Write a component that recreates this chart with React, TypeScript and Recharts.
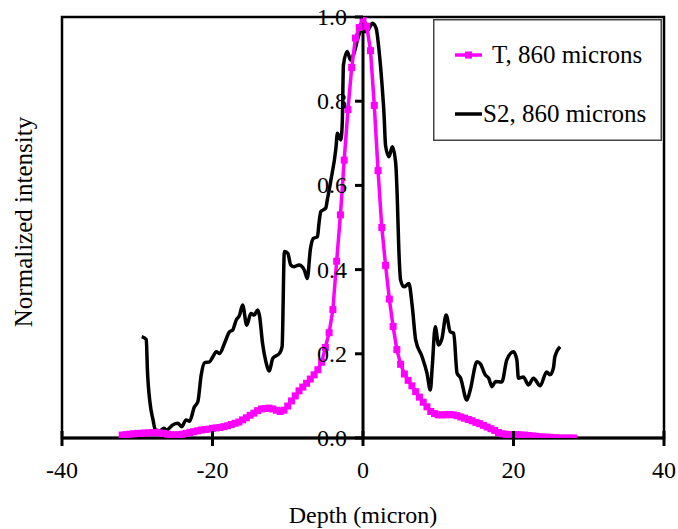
import React from "react";
import {
  LineChart,
  Line,
  XAxis,
  YAxis,
  ReferenceLine,
  ReferenceArea,
  Legend,
} from "recharts";

// depth (micron), normalized intensity
const tRows: [number, number][] = [
  [-32, 0.007], [-31.5, 0.008], [-31, 0.009], [-30.5, 0.01], [-30, 0.011],
  [-29.5, 0.011], [-29, 0.012], [-28.5, 0.012], [-28, 0.013], [-27.5, 0.013],
  [-27, 0.012], [-26.5, 0.011], [-26, 0.009], [-25.5, 0.008], [-25, 0.007],
  [-24.5, 0.008], [-24, 0.009], [-23.5, 0.011], [-23, 0.013], [-22.5, 0.015],
  [-22, 0.017], [-21.5, 0.019], [-21, 0.02], [-20.5, 0.021], [-20, 0.023],
  [-19.5, 0.024], [-19, 0.025], [-18.5, 0.027], [-18, 0.029], [-17.5, 0.032],
  [-17, 0.035], [-16.5, 0.038], [-16, 0.043], [-15.5, 0.048], [-15, 0.054],
  [-14.5, 0.059], [-14, 0.065], [-13.5, 0.069], [-13, 0.07], [-12.5, 0.071],
  [-12, 0.069], [-11.5, 0.066], [-11, 0.063], [-10.5, 0.066], [-10, 0.076],
  [-9.5, 0.088], [-9, 0.1], [-8.5, 0.112], [-8, 0.121], [-7.5, 0.13],
  [-7, 0.14], [-6.5, 0.15], [-6, 0.162], [-5.5, 0.18], [-5, 0.215],
  [-4.5, 0.25], [-4, 0.305], [-3.5, 0.42], [-3, 0.53], [-2.5, 0.66],
  [-2, 0.78], [-1.5, 0.88], [-1, 0.95], [-0.5, 0.975], [0, 1.0],
  [0.5, 0.978], [1, 0.92], [1.5, 0.79], [2, 0.635], [2.5, 0.5],
  [3, 0.41], [3.5, 0.33], [4, 0.265], [4.5, 0.21], [5, 0.175],
  [5.5, 0.152], [6, 0.137], [6.5, 0.124], [7, 0.11], [7.5, 0.097],
  [8, 0.085], [8.5, 0.074], [9, 0.063], [9.5, 0.058], [10, 0.055],
  [10.5, 0.055], [11, 0.055], [11.5, 0.056], [12, 0.055], [12.5, 0.053],
  [13, 0.05], [13.5, 0.047], [14, 0.044], [14.5, 0.041], [15, 0.037],
  [15.5, 0.034], [16, 0.03], [16.5, 0.026], [17, 0.022], [17.5, 0.018],
  [18, 0.013], [18.5, 0.01], [19, 0.009], [19.5, 0.008], [20, 0.008],
  [20.5, 0.008], [21, 0.007], [21.5, 0.007], [22, 0.006], [22.5, 0.005],
  [23, 0.004], [23.5, 0.003], [24, 0.002], [24.5, 0.002], [25, 0.001],
  [25.5, 0.001], [26, 0], [26.5, 0], [27, 0], [27.5, 0], [28, 0],
];

const s2Rows: [number, number][] = [
  [-29.4, 0.241], [-28.8, 0.234], [-28.65, 0.162], [-28.3, 0.083], [-27.9, 0.043],
  [-27.6, 0.019], [-27.0, 0.017], [-26.45, 0.023], [-26.1, 0.019], [-25.3, 0.031],
  [-24.6, 0.035], [-24.1, 0.027], [-23.5, 0.043], [-23.05, 0.04], [-22.4, 0.074],
  [-21.95, 0.086], [-21.5, 0.15], [-21.05, 0.179], [-20.4, 0.181], [-19.95, 0.193],
  [-19.5, 0.205], [-19.05, 0.201], [-18.4, 0.225], [-17.75, 0.252], [-17.3, 0.257],
  [-16.85, 0.28], [-16.4, 0.292], [-16.0, 0.316], [-15.45, 0.268], [-14.9, 0.296],
  [-14.45, 0.292], [-14.0, 0.304], [-13.75, 0.29], [-13.35, 0.225], [-12.9, 0.181],
  [-12.45, 0.159], [-12.0, 0.189], [-11.1, 0.201], [-10.75, 0.217], [-10.45, 0.443],
  [-10.0, 0.439], [-9.6, 0.411], [-9.15, 0.407], [-8.5, 0.411], [-7.8, 0.399],
  [-7.4, 0.379], [-7.0, 0.447], [-6.6, 0.474], [-6.05, 0.478], [-5.85, 0.51],
  [-5.6, 0.538], [-4.95, 0.546], [-4.75, 0.565], [-4.3, 0.609], [-3.6, 0.688],
  [-3.4, 0.724], [-2.95, 0.708], [-2.75, 0.751], [-2.6, 0.886], [-2.1, 0.918],
  [-1.65, 0.898], [-1.2, 0.914], [-0.55, 0.957], [-0.1, 0.973], [0.35, 0.965],
  [0.8, 0.973], [1.25, 0.985], [1.75, 0.973], [2.1, 0.926], [2.5, 0.846],
  [2.8, 0.767], [3.0, 0.694], [3.45, 0.668], [3.9, 0.692], [4.35, 0.652],
  [4.55, 0.573], [4.75, 0.454], [5.0, 0.375], [5.45, 0.359], [6.1, 0.367],
  [6.55, 0.312], [7.0, 0.233], [7.85, 0.193], [8.5, 0.154], [8.95, 0.114],
  [9.2, 0.169], [9.6, 0.264], [10.05, 0.221], [10.5, 0.237], [11.05, 0.292],
  [11.6, 0.252], [12.05, 0.249], [12.5, 0.154], [12.95, 0.143], [13.8, 0.09],
  [14.25, 0.114], [15.15, 0.181], [15.6, 0.176], [16.25, 0.15], [16.7, 0.142],
  [17.15, 0.122], [17.6, 0.134], [18.45, 0.133], [19.1, 0.185], [20.0, 0.205],
  [20.45, 0.185], [20.65, 0.142], [21.3, 0.145], [22.0, 0.126], [22.65, 0.142],
  [23.55, 0.124], [24.4, 0.157], [24.85, 0.15], [25.3, 0.166], [25.5, 0.193],
  [26.2, 0.217],
];

const xTicks = [-40, -20, 0, 20, 40];
const yTicks = [0, 0.2, 0.4, 0.6, 0.8, 1.0];

const tData = tRows.map(([d, v]) => ({ d, v }));
const s2Data = s2Rows.map(([d, v]) => ({ d, v }));

const W = 678;
const H = 529;
const M = { top: 17, right: 14, left: 2, bottom: 0 };
const Y_W = 60;
const X_H = 91;
const PLOT_W = W - M.left - M.right - Y_W;
const FONT = "'Liberation Serif', 'Times New Roman', serif";
const MAGENTA = "#ff00ff";

const XTick = ({ x, y, payload }: any) => (
  <g>
    <line x1={x} x2={x} y1={y - 7} y2={y + 8} stroke="#000" strokeWidth={3} />
    <text x={x} y={y + 40} textAnchor="middle" fontFamily={FONT} fontSize={24} fill="#000">
      {payload.value}
    </text>
  </g>
);

// y axis crosses at depth 0, so labels are shifted to the middle of the plot
const YTick = ({ x, y, payload }: any) => {
  const ax = x + PLOT_W / 2;
  return (
    <g>
      <line x1={ax - 8} x2={ax} y1={y} y2={y} stroke="#000" strokeWidth={3} />
      <text x={ax - 16} y={y + 8} textAnchor="end" fontFamily={FONT} fontSize={24} fill="#000">
        {Number(payload.value).toFixed(1)}
      </text>
    </g>
  );
};

const Square = (props: any) => {
  const { cx, cy, index } = props;
  if (cx == null || cy == null) return <g key={index} />;
  return <rect key={index} x={cx - 3.5} y={cy - 3.5} width={7} height={7} fill={MAGENTA} />;
};

const LegendBox = () => (
  <svg width={229} height={122} style={{ display: "block" }}>
    <rect x={0.75} y={0.75} width={227.5} height={120.5} fill="#fff" stroke="#444" strokeWidth={1.5} />
    <line x1={22} x2={49} y1={36} y2={36} stroke={MAGENTA} strokeWidth={3.5} />
    <rect x={32} y={32.5} width={7} height={7} fill={MAGENTA} />
    <text x={59} y={44} fontFamily={FONT} fontSize={25} fill="#000">
      T, 860 microns
    </text>
    <line x1={22} x2={49} y1={95} y2={95} stroke="#000" strokeWidth={3.5} />
    <text x={50} y={103} fontFamily={FONT} fontSize={25} fill="#000">
      S2, 860 microns
    </text>
  </svg>
);

const YLabel = () => (
  <text
    x={23}
    y={222}
    transform="rotate(-90 23 222)"
    textAnchor="middle"
    dominantBaseline="central"
    fontFamily={FONT}
    fontSize={25}
    fill="#000"
  >
    Normalized intensity
  </text>
);

export default function App() {
  return (
    <div style={{ position: "absolute", left: 0, top: 0, background: "#fff" }}>
      <LineChart width={W} height={H} margin={M}>
        <ReferenceArea
          x1={-40}
          x2={40}
          y1={0}
          y2={1}
          fill="none"
          stroke="#000"
          strokeWidth={2.5}
          fillOpacity={0}
        />
        <XAxis
          type="number"
          dataKey="d"
          domain={[-40, 40]}
          ticks={xTicks}
          allowDataOverflow
          height={X_H}
          tickSize={0}
          tickMargin={0}
          tickLine={false}
          axisLine={{ stroke: "#000", strokeWidth: 3 }}
          tick={<XTick />}
          label={{
            value: "Depth (micron)",
            position: "insideBottom",
            offset: 6,
            fontFamily: FONT,
            fontSize: 24,
            fill: "#000",
          }}
        />
        <YAxis
          type="number"
          domain={[0, 1]}
          ticks={yTicks}
          allowDataOverflow
          width={Y_W}
          tickSize={0}
          tickMargin={0}
          tickLine={false}
          axisLine={false}
          tick={<YTick />}
          label={<YLabel />}
        />
        <ReferenceLine x={0} stroke="#000" strokeWidth={3} />
        <Line
          data={s2Data}
          dataKey="v"
          name="S2, 860 microns"
          type="monotone"
          stroke="#000"
          strokeWidth={3.5}
          dot={false}
          isAnimationActive={false}
        />
        <Line
          data={tData}
          dataKey="v"
          name="T, 860 microns"
          type="linear"
          stroke={MAGENTA}
          strokeWidth={3.5}
          dot={Square}
          isAnimationActive={false}
        />
        <Legend
          layout="horizontal"
          verticalAlign="middle"
          align="center"
          content={<LegendBox />}
          wrapperStyle={{ position: "absolute", left: 433, top: 19, width: 229, height: 122 }}
        />
      </LineChart>
    </div>
  );
}
